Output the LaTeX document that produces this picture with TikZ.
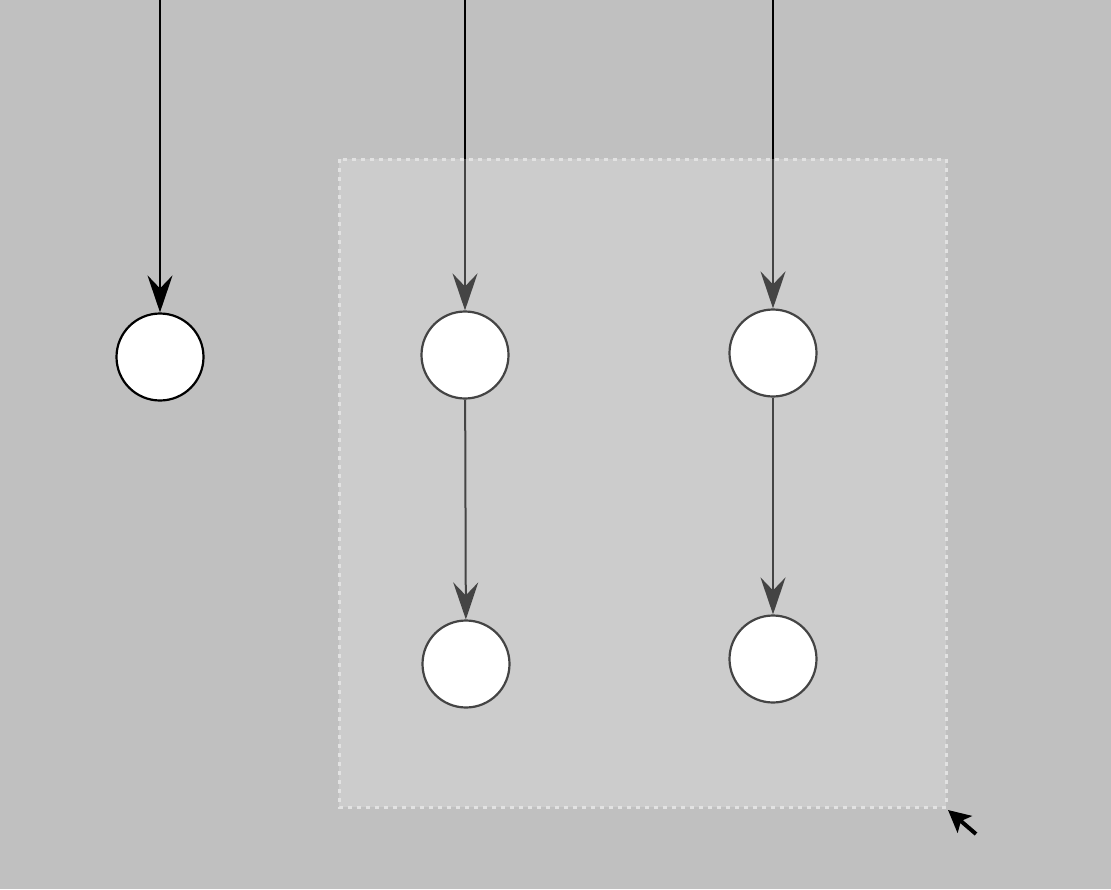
\documentclass[tikz,border=0pt]{standalone}
\usetikzlibrary{arrows.meta, positioning}
\definecolor{canvas}{HTML}{C0C0C0}
\definecolor{selfill}{HTML}{CCCCCC}
\definecolor{seldash}{HTML}{E2E2E2}
\definecolor{dimline}{HTML}{444444}
\tikzset{
  state/.style={circle, draw=black, fill=white, line width=2.2pt, minimum size=87pt, inner sep=0pt},
  dimstate/.style={state, draw=dimline},
  flow/.style={-{Stealth[length=37pt, width=25pt, inset=13pt]}, line width=2pt},
  dimflow/.style={flow, draw=dimline, fill=dimline}
}

\begin{document}
\begin{tikzpicture}[x=1pt, y=-1pt]

% canvas
\fill[canvas] (0,0) rectangle (1111,889);
\useasboundingbox (0,0) rectangle (1111,889);

% selection area
\fill[selfill] (339,159) rectangle (946,807);
\draw[seldash, line width=3pt, dash pattern=on 4pt off 5pt] (339,159) rectangle (946,807);

% states
\node[state] (s1) at (160,357) {};
\node[dimstate] (s2) at (465,355) {};
\node[dimstate] (s3) at (773,353) {};
\node[dimstate] (s4) at (466,664) {};
\node[dimstate] (s5) at (773,659) {};

% incoming from the top
\coordinate (in1) at (160,0);
\coordinate (in2) at (465,0);
\coordinate (in3) at (773,0);
\coordinate (in2b) at (465,159);
\coordinate (in3b) at (773,159);

\draw[flow] (in1) -- (s1);
\draw[line width=2pt] (in2) -- (in2b);
\draw[line width=2pt] (in3) -- (in3b);
\draw[dimflow] (in2b) -- (s2);
\draw[dimflow] (in3b) -- (s3);

% inner transitions
\draw[dimflow] (s2) -- (s4);
\draw[dimflow] (s3) -- (s5);

% resize handle
\coordinate (hs) at (976,834);
\coordinate (ht) at (948,810);
\draw[-{Stealth[length=22pt, width=22pt, inset=5pt]}, line width=4pt] (hs) -- (ht);

\end{tikzpicture}
\end{document}
